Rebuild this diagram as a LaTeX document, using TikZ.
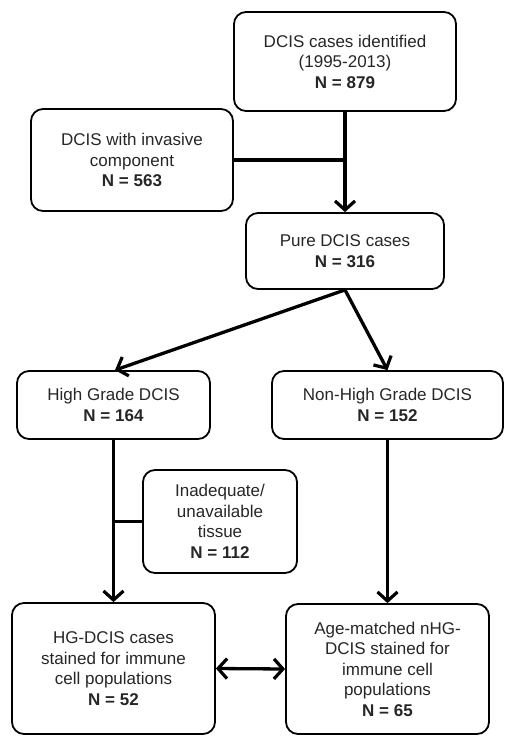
\documentclass[tikz,border=0pt]{standalone}
\usepackage{fontspec}
\setmainfont{Liberation Sans}
\usetikzlibrary{arrows.meta}

\begin{document}
\begin{tikzpicture}[x=1pt, y=-1pt,
    >={Straight Barb[length=9pt,width=20pt,line width=3.2pt]},
    box/.style = {shape=rectangle, rounded corners=12pt,
      draw, line width=1.8pt, align=center, text=black!85,
      font=\fontsize{17}{20.5}\selectfont, inner sep=2pt},
    link/.style = {line width=3.3pt}]
    \useasboundingbox (0,0) rectangle (515,745);

    \node[box, minimum width=222, minimum height=99] (ident) at (345,61.5)
      {DCIS cases identified\\(1995-2013)\\\textbf{N = 879}};
    \node[box, minimum width=202, minimum height=102] (invasive) at (132,160)
      {DCIS with invasive\\component\\\textbf{N = 563}};
    \node[box, minimum width=198, minimum height=76] (pure) at (345,251)
      {Pure DCIS cases\\\textbf{N = 316}};
    \node[box, minimum width=193, minimum height=68] (hg) at (113.5,405)
      {High Grade DCIS\\\textbf{N = 164}};
    \node[box, minimum width=231, minimum height=68] (nhg) at (387.5,405)
      {Non-High Grade DCIS\\\textbf{N = 152}};
    \node[box, minimum width=154, minimum height=103] (tissue) at (220,521.5)
      {Inadequate/\\unavailable\\tissue\\\textbf{N = 112}};
    \node[box, minimum width=203, minimum height=131] (hgstain) at (113.5,668.5)
      {HG-DCIS cases\\stained for immune\\cell populations\\\textbf{N = 52}};
    \node[box, minimum width=203, minimum height=130] (nhgstain) at (387.5,669)
      {Age-matched nHG-\\DCIS stained for\\immune cell\\populations\\\textbf{N = 65}};

    % exclusions
    \draw[link, ->] (ident.south) -- (pure.north);
    \draw[link] (invasive.east) -- (invasive.east -| ident.south);
    \draw[link, ->] (pure.south) -- ([xshift=1.5pt]hg.north);
    \draw[link, ->] (pure.south) -- (nhg.north);
    \draw[link, ->] (hg.south) -- (hg.south |- hgstain.north);
    \draw[link] (tissue.west) -- (tissue.west -| hg.south);
    \draw[link, ->] (nhg.south) -- (nhgstain.north);
    % comparison
    \draw[link, <->] (hgstain.east) -- (nhgstain.west);
\end{tikzpicture}
\end{document}
